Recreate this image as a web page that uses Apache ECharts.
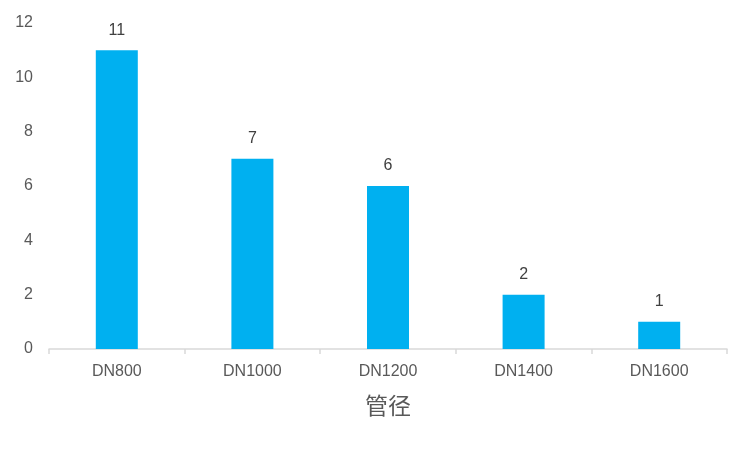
<!DOCTYPE html>
<html><head><meta charset="utf-8">
<script src="https://cdn.jsdelivr.net/npm/echarts@6/dist/echarts.min.js"></script>
<style>html,body{margin:0;padding:0;background:#fff}#c{width:749px;height:449px}</style>
</head><body><div id="c"></div>
<script>
const categories = ['DN800', 'DN1000', 'DN1200', 'DN1400', 'DN1600'];
const counts = [11, 7, 6, 2, 1];
const yTicks = { min: 0, max: 12, interval: 2 };
const axisTitle = '管径';

const chart = echarts.init(document.getElementById('c'));
chart.setOption({
  animation: false,
  grid: { left: 49, right: 22, top: 23, bottom: 100 },
  xAxis: {
    type: 'category',
    data: categories,
    name: axisTitle,
    nameLocation: 'middle',
    nameGap: 45,
    nameTextStyle: { fontSize: 23, color: '#595959', fontFamily: 'Noto Sans CJK SC' },
    axisLine: { lineStyle: { color: '#D9D9D9', width: 1.5 } },
    axisTick: { show: true, length: 5, lineStyle: { color: '#D9D9D9', width: 1.5 } },
    axisLabel: { color: '#595959', fontSize: 16, margin: 15, fontFamily: 'Liberation Sans' }
  },
  yAxis: {
    type: 'value',
    min: yTicks.min, max: yTicks.max, interval: yTicks.interval,
    splitLine: { show: false },
    axisLine: { show: false },
    axisTick: { show: false },
    axisLabel: { color: '#595959', fontSize: 16, margin: 16, fontFamily: 'Liberation Sans' }
  },
  series: [{
    type: 'bar',
    data: counts,
    barWidth: 42,
    itemStyle: { color: '#00B0F0' },
    label: { show: true, position: 'top', distance: 12, color: '#404040', fontSize: 16, fontFamily: 'Liberation Sans' }
  }]
});
</script></body></html>
